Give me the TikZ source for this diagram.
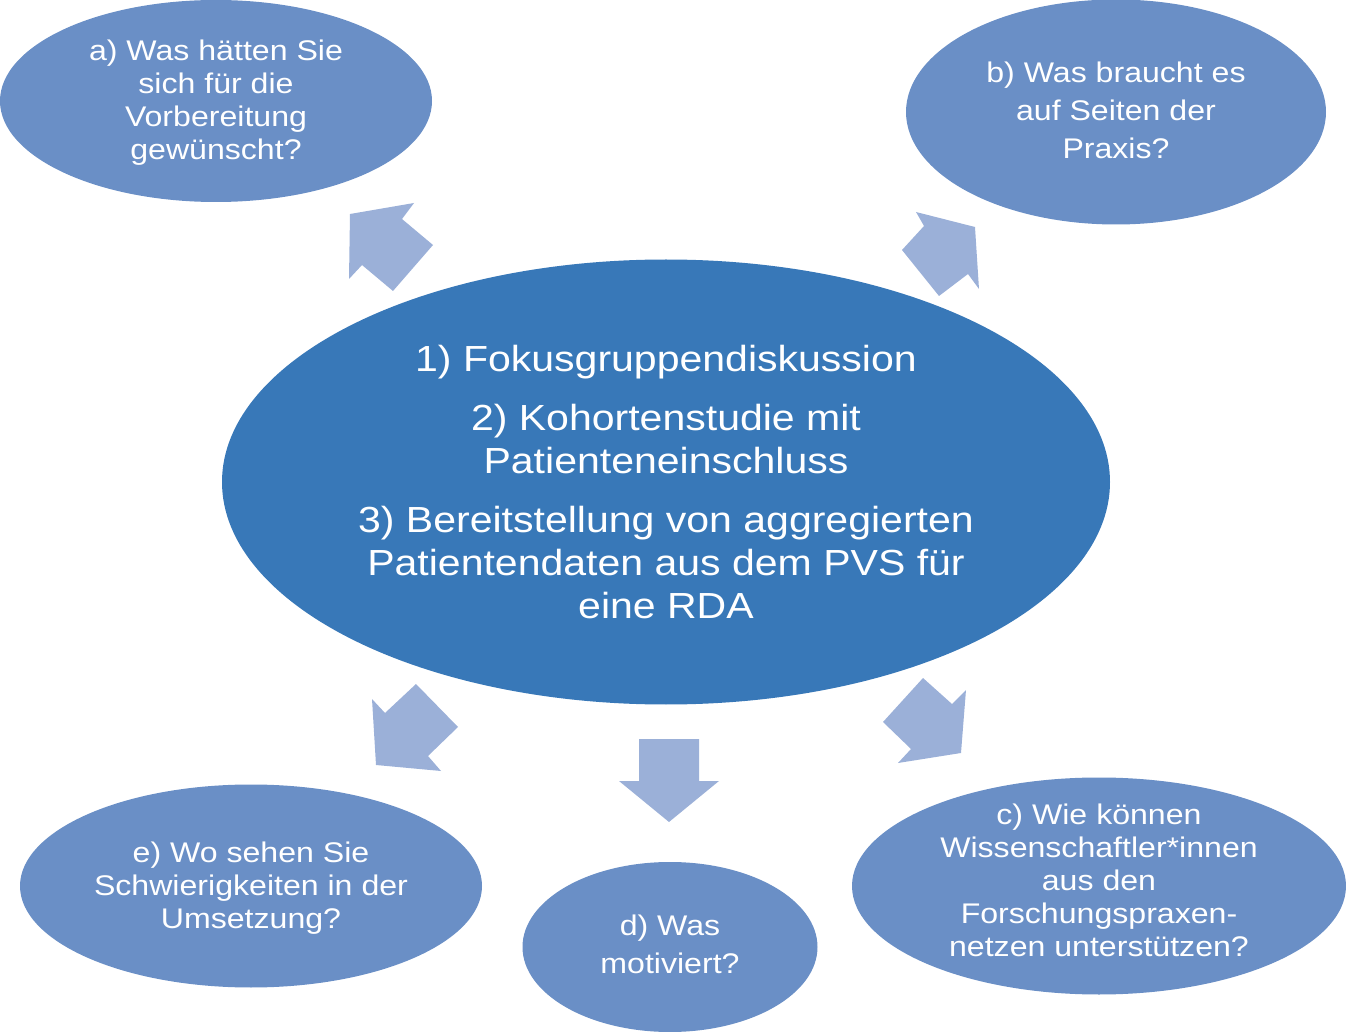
\documentclass[tikz,border=0pt]{standalone}
\usepackage{fontspec}
\setmainfont{Liberation Sans}[FakeStretch=1.13]
\usetikzlibrary{shapes.geometric}
\definecolor{mainblue}{RGB}{56,120,184}
\definecolor{outerblue}{RGB}{106,143,198}
\definecolor{arrowblue}{RGB}{155,176,216}
\begin{document}
\begin{tikzpicture}[x=0.5pt,y=-0.5pt,
  bubble/.style={ellipse, fill=outerblue, inner sep=0pt, outer sep=0pt},
  hub/.style={ellipse, fill=mainblue, inner sep=0pt, outer sep=0pt},
  qtext/.style={text=white, align=center, inner sep=0pt, font=\fontsize{14.2}{16.5}\selectfont},
  qtextwide/.style={qtext, font=\fontsize{14.2}{19}\selectfont},
  hubtext/.style={text=white, align=center, inner sep=0pt, font=\fontsize{18.15}{21.5}\selectfont},
  blockarrow/.style={fill=arrowblue}]
\useasboundingbox (0,0) rectangle (1346,1032);

% bubbles
\node[hub, minimum width=444pt, minimum height=222.5pt] (hub) at (666,482) {};
\node[bubble, minimum width=216pt, minimum height=101pt] (a) at (216,101) {};
\node[bubble, minimum width=210pt, minimum height=112.5pt] (b) at (1116,112) {};
\node[bubble, minimum width=247pt, minimum height=108.5pt] (c) at (1099,886) {};
\node[bubble, minimum width=147.5pt, minimum height=85pt] (d) at (670,947) {};
\node[bubble, minimum width=231pt, minimum height=101.5pt] (e) at (251,886) {};

% texts
\node[hubtext] (hubt) at (hub.center) {1) Fokusgruppendiskussion\\[8pt]2) Kohortenstudie mit\\Patienteneinschluss\\[8pt]3) Bereitstellung von aggregierten\\Patientendaten aus dem PVS für\\eine RDA};
\node[qtext] (at) at ([yshift=-1pt]a.center) {a) Was hätten Sie\\sich für die\\Vorbereitung\\gewünscht?};
\node[qtextwide] (bt) at ([yshift=1pt]b.center) {b) Was braucht es\\auf Seiten der\\Praxis?};
\node[qtext] (ct) at ([yshift=3pt]c.center) {c) Wie können\\Wissenschaftler*innen\\aus den\\Forschungspraxen-\\netzen unterstützen?};
\node[qtextwide] (dt) at ([yshift=1.5pt]d.center) {d) Was\\motiviert?};
\node[qtext] (et) at ([yshift=-1pt]e.center) {e) Wo sehen Sie\\Schwierigkeiten in der\\Umsetzung?};

% block arrows
\fill[blockarrow] (350,214) -- (414,203) -- (402,219) -- (433,245) -- (393,291) -- (362,265) -- (349,279) -- cycle;
\fill[blockarrow] (916,212) -- (975,227) -- (979,289) -- (968,274) -- (939,296) -- (902,250) -- (924,226) -- cycle;
\fill[blockarrow] (372,699) -- (385,713) -- (416,684) -- (458,727) -- (428,756) -- (441,771) -- (376,765) -- cycle;
\fill[blockarrow] (639,739) -- (699,739) -- (699,781) -- (719,781) -- (669,822) -- (619,781) -- (639,781) -- cycle;
\fill[blockarrow] (923,678) -- (952,704) -- (966,690) -- (961,753) -- (898,763) -- (911,749) -- (883,722) -- cycle;
\end{tikzpicture}
\end{document}
